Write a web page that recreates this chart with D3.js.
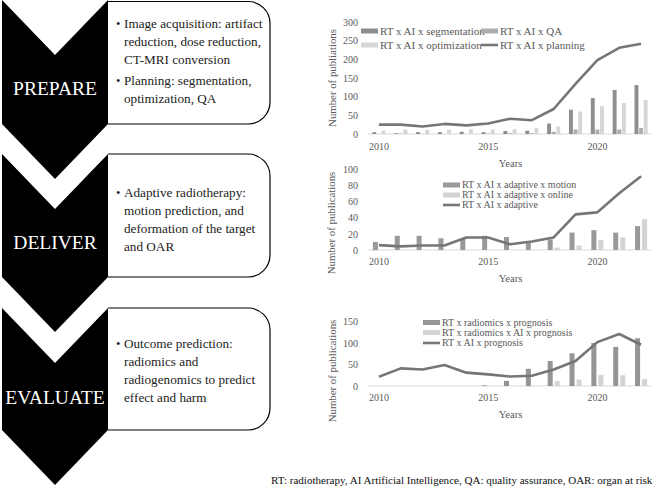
<!DOCTYPE html>
<html><head><meta charset="utf-8">
<script src="https://cdn.jsdelivr.net/npm/d3@7"></script>
<style>
html,body{margin:0;padding:0;background:#fff;}
svg{display:block;font-family:"Liberation Serif","Times New Roman",serif;}
svg text{font-family:"Liberation Serif","Times New Roman",serif;}
</style></head>
<body>
<svg id="fig" width="656" height="489"></svg>
<script>
// ---------- DATA ----------
const years = [2010,2011,2012,2013,2014,2015,2016,2017,2018,2019,2020,2021,2022];
const xTickLabels = [2010,2015,2020];

// Chart 1: planning
const segmentation = [5,2,5,5,6,5,8,9,28,65,96,118,131];
const qa           = [0,1,0,0,0,1,2,2,6,12,12,12,16];
const optimization = [9,12,11,11,13,12,13,16,20,60,75,83,91];
const planning     = [25,25,20,27,23,28,41,37,67,134,198,231,242];
const yTicks1 = [0,50,100,150,200,250,300];

// Chart 2: adaptive
const adaptiveMotion = [10,17.5,17.5,14.5,14,17.5,16,10,13,21.5,24.5,21.5,29.5];
const adaptiveOnline = [0,0,0,0,0,0,0,0,3,5.5,12.5,15.5,38];
const adaptive       = [6,4.5,5.5,5.5,15.5,15.5,7,10.5,15.5,44,46.5,70,91];
const yTicks2 = [0,20,40,60,80,100];

// Chart 3: prognosis
const radiomicsPrognosis   = [0,0,0,0,0,1.5,12,40,58,76,100,91,111];
const radiomicsAIPrognosis = [0,0,0,0,0,0,0,0,11.5,15,26,25,16];
const aiPrognosis          = [21.5,41,38.5,49,31,27,22,24,38.5,58,102,121,96];
const yTicks3 = [0,50,100,150];

// Left panel texts
const stages = ["PREPARE","DELIVER","EVALUATE"];
const stageLines = [
  [["• ","Image acquisition: artifact"],["","reduction, dose reduction,"],["","CT-MRI conversion"],["• ","Planning: segmentation,"],["","optimization, QA"]],
  [["• ","Adaptive radiotherapy:"],["","motion prediction, and"],["","deformation of the target"],["","and OAR"]],
  [["• ","Outcome prediction:"],["","radiomics and"],["","radiogenomics to predict"],["","effect and harm"]]
];
const footnote = "RT: radiotherapy, AI Artificial Intelligence, QA: quality assurance, OAR: organ at risk";

// ---------- LAYOUT ----------
const svg = d3.select("#fig");
svg.append("rect").attr("width",656).attr("height",489).attr("fill","#fff");

const panelTops = [0,154,308];
const panelBottoms = [124,277,430];
const chevL = 2, chevR = 108, chevC = 55, chevD = 55;
const boxR = 270, rad = 22;
const lineOffsets = [
  [28,46,64,85,103],
  [197,215,233,251],
  [348,366,384,402]
];
const stageLabelY = [95,249,404];

stages.forEach((s,i)=>{
  const t = panelTops[i], b = panelBottoms[i];
  const p = d3.path();
  p.moveTo(chevL,t); p.lineTo(chevC,t+chevD); p.lineTo(chevR,t);
  p.lineTo(chevR,b); p.lineTo(chevC,b+chevD); p.lineTo(chevL,b); p.closePath();
  svg.append("path").attr("d",p.toString()).attr("fill","#000");
  const q = d3.path();
  const bt = Math.max(t,1.5);
  q.moveTo(chevR,bt); q.lineTo(boxR-rad,bt);
  q.arcTo(boxR,bt,boxR,bt+rad,rad); q.lineTo(boxR,b-rad);
  q.arcTo(boxR,b,boxR-rad,b,rad); q.lineTo(chevR,b);
  svg.append("path").attr("d",q.toString()).attr("fill","none").attr("stroke","#000").attr("stroke-width",1.2);
  svg.append("text").attr("x",chevC).attr("y",stageLabelY[i]).attr("text-anchor","middle")
    .attr("fill","#fff").attr("font-size",19.5).text(s);
  stageLines[i].forEach((ln,j)=>{
    const y = lineOffsets[i][j];
    if(ln[0]) svg.append("text").attr("x",116).attr("y",y).attr("font-size",12.5).attr("fill","#222").text("•");
    svg.append("text").attr("x",124).attr("y",y).attr("font-size",13.2).attr("fill","#222").text(ln[1]);
  });
});

svg.append("text").attr("x",271).attr("y",484).attr("font-size",11.05).attr("fill","#111").text(footnote);

// ---------- CHARTS ----------
const X0 = 368, X1 = 652;
const txtCol = "#595959";

function drawChart(cfg){
  const g = svg.append("g");
  const x = d3.scaleBand().domain(years).range([X0,X1]).paddingInner(cfg.padInner).paddingOuter(cfg.padInner/2);
  const xs = d3.scaleBand().domain(cfg.bars.map(d=>d.name)).range([0,x.bandwidth()]).paddingInner(cfg.subPad);
  const y = d3.scaleLinear().domain([0,cfg.yMax]).range([cfg.y0,cfg.yTop]);

  g.append("line").attr("x1",X0).attr("x2",X1).attr("y1",y(0)).attr("y2",y(0)).attr("stroke","#d9d9d9").attr("stroke-width",1);

  cfg.bars.forEach(s=>{
    g.append("g").selectAll("rect").data(years.map((yr,i)=>({yr,v:s.values[i]}))).join("rect")
      .attr("x",d=>x(d.yr)+xs(s.name)).attr("width",xs.bandwidth())
      .attr("y",d=>y(d.v)).attr("height",d=>y(0)-y(d.v)).attr("fill",s.color);
  });
  const line = d3.line().x((d,i)=>x(years[i])+x.bandwidth()/2).y(d=>y(d));
  g.append("path").attr("d",line(cfg.line.values)).attr("fill","none").attr("stroke",cfg.line.color)
    .attr("stroke-width",2.6).attr("stroke-linejoin","round");

  const ya = g.append("g").attr("transform",`translate(${cfg.yAxisX},0)`)
    .call(d3.axisLeft(y).tickValues(cfg.yTicks).tickSize(0).tickPadding(3));
  ya.attr("font-family",null);
  ya.select(".domain").remove();
  ya.selectAll("text").attr("font-size",10).attr("fill",txtCol);

  const xa = g.append("g").attr("transform",`translate(0,${cfg.xLabelY})`)
    .call(d3.axisBottom(x).tickValues(xTickLabels).tickSize(0).tickPadding(0));
  xa.attr("font-family",null);
  xa.select(".domain").remove();
  xa.selectAll("text").attr("font-size",10).attr("fill",txtCol).attr("dy","0.32em");

  g.append("text").attr("x",510.5).attr("y",cfg.xTitleY).attr("dy","0.32em").attr("text-anchor","middle")
    .attr("font-size",10.5).attr("fill",txtCol).text("Years");
  g.append("text").attr("transform",`translate(${cfg.yTitleX},${cfg.yTitleY}) rotate(-90)`).attr("dy","0.32em")
    .attr("text-anchor","middle").attr("font-size",10.8).attr("fill",txtCol).text(cfg.yTitle);

  cfg.legend.forEach(l=>{
    if(l.type==="bar"){
      g.append("rect").attr("x",l.x).attr("y",l.y-2.5).attr("width",17).attr("height",5).attr("fill",l.color);
    } else {
      g.append("line").attr("x1",l.x).attr("x2",l.x+17).attr("y1",l.y).attr("y2",l.y).attr("stroke",l.color).attr("stroke-width",2.6);
    }
    g.append("text").attr("x",l.x+19).attr("y",l.y).attr("dy","0.32em").attr("font-size",cfg.legendFont).attr("fill",txtCol).text(l.name);
  });
}

const c1 = {segmentation:"#8e8e8e", qa:"#adadad", optimization:"#d6d6d6", line:"#767676"};
drawChart({
  padInner:0.4, subPad:0.15, yMax:300, y0:134, yTop:22, yTicks:yTicks1, yAxisX:361,
  xLabelY:147, xTitleY:164, yTitleX:333, yTitleY:78, yTitle:"Number of publiations", legendFont:11,
  bars:[{name:"RT x AI x segmentation",values:segmentation,color:c1.segmentation},
        {name:"RT x AI x QA",values:qa,color:c1.qa},
        {name:"RT x AI x optimization",values:optimization,color:c1.optimization}],
  line:{name:"RT x AI x planning",values:planning,color:c1.line},
  legend:[
    {type:"bar",name:"RT x AI x segmentation",x:361,y:31,color:c1.segmentation},
    {type:"bar",name:"RT x AI x QA",x:481,y:31,color:c1.qa},
    {type:"bar",name:"RT x AI x optimization",x:361,y:45,color:c1.optimization},
    {type:"line",name:"RT x AI x planning",x:481,y:45,color:c1.line}
  ]
});

const c2 = {motion:"#999999", online:"#d3d3d3", line:"#767676"};
drawChart({
  padInner:0.45, subPad:0.286, yMax:100, y0:250, yTop:169, yTicks:yTicks2, yAxisX:361,
  xLabelY:262, xTitleY:279, yTitleX:332, yTitleY:223, yTitle:"Number of publications", legendFont:10,
  bars:[{name:"RT x AI x adaptive x motion",values:adaptiveMotion,color:c2.motion},
        {name:"RT x AI x adaptive x online",values:adaptiveOnline,color:c2.online}],
  line:{name:"RT x AI x adaptive",values:adaptive,color:c2.line},
  legend:[
    {type:"bar",name:"RT x AI x adaptive x motion",x:443,y:185,color:c2.motion},
    {type:"bar",name:"RT x AI x adaptive x online",x:443,y:195,color:c2.online},
    {type:"line",name:"RT x AI x adaptive",x:443,y:205,color:c2.line}
  ]
});

const c3 = {rad:"#959595", radAI:"#d3d3d3", line:"#767676"};
drawChart({
  padInner:0.45, subPad:0.286, yMax:150, y0:386, yTop:321.5, yTicks:yTicks3, yAxisX:361,
  xLabelY:398, xTitleY:415, yTitleX:333, yTitleY:371, yTitle:"Number of publications", legendFont:10,
  bars:[{name:"RT x radiomics x prognosis",values:radiomicsPrognosis,color:c3.rad},
        {name:"RT x radiomics x AI x prognosis",values:radiomicsAIPrognosis,color:c3.radAI}],
  line:{name:"RT x AI x prognosis",values:aiPrognosis,color:c3.line},
  legend:[
    {type:"bar",name:"RT x radiomics x prognosis",x:423,y:322.5,color:c3.rad},
    {type:"bar",name:"RT x radiomics x AI x prognosis",x:423,y:332.5,color:c3.radAI},
    {type:"line",name:"RT x AI x prognosis",x:423,y:343,color:c3.line}
  ]
});
</script>
</body></html>
